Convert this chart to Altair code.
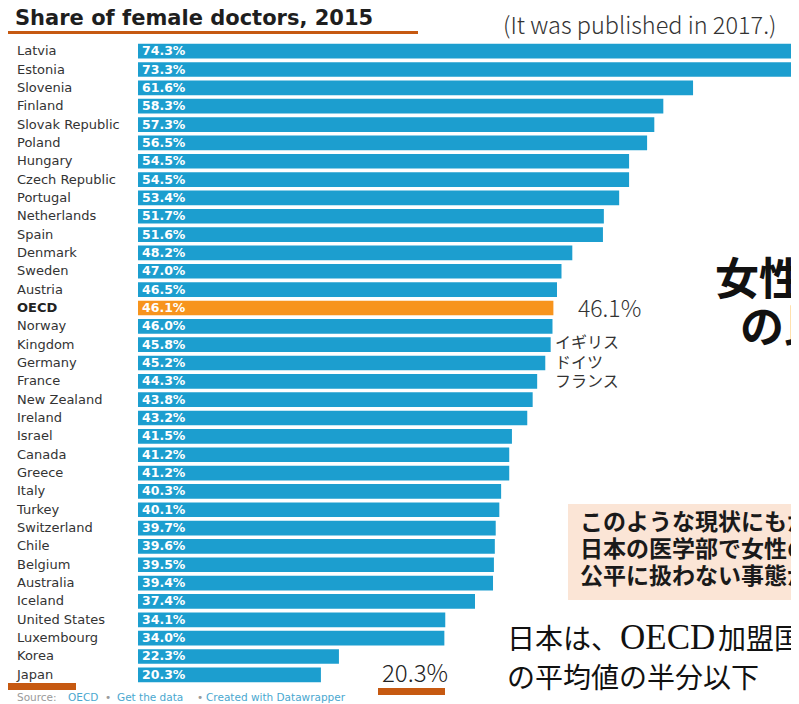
import altair as alt
import pandas as pd

countries = ["Latvia", "Estonia", "Slovenia", "Finland", "Slovak Republic", "Poland",
             "Hungary", "Czech Republic", "Portugal", "Netherlands", "Spain", "Denmark",
             "Sweden", "Austria", "OECD", "Norway", "Kingdom", "Germany", "France",
             "New Zealand", "Ireland", "Israel", "Canada", "Greece", "Italy", "Turkey",
             "Switzerland", "Chile", "Belgium", "Australia", "Iceland", "United States",
             "Luxembourg", "Korea", "Japan"]
shares = [74.3, 73.3, 61.6, 58.3, 57.3, 56.5, 54.5, 54.5, 53.4, 51.7, 51.6, 48.2,
          47.0, 46.5, 46.1, 46.0, 45.8, 45.2, 44.3, 43.8, 43.2, 41.5, 41.2, 41.2,
          40.3, 40.1, 39.7, 39.6, 39.5, 39.4, 37.4, 34.1, 34.0, 22.3, 20.3]

df = pd.DataFrame({"country": countries, "share": shares})
df["label"] = [f"{v:.1f}%" for v in shares]

BLUE = "#1c9ecf"
ORANGE = "#f7941d"
DARK_ORANGE = "#c65911"
PINK = "#fbe5d6"
SANS = "DejaVu Sans"
JP = "Noto Sans CJK JP"
SERIF = "Liberation Serif"

W, H = 653, 642

yenc = alt.Y("country:N", sort=countries, axis=None,
             scale=alt.Scale(paddingInner=0.2, paddingOuter=0.1))
xscale = alt.Scale(domain=[0, 72.47], nice=False, zero=True)

base = alt.Chart(df)

bars = base.mark_bar(clip=True).encode(
    x=alt.X("share:Q", scale=xscale, axis=None),
    y=yenc,
    color=alt.condition(alt.datum.country == "OECD", alt.value(ORANGE), alt.value(BLUE)),
)

vals = base.mark_text(align="left", baseline="middle", color="white",
                      font=SANS, fontWeight="bold", fontSize=12.5).encode(
    x=alt.value(4), y=yenc, text="label:N")

names = base.transform_filter(alt.datum.country != "OECD").mark_text(
    align="left", baseline="middle", color="#333333", font=SANS, fontSize=13).encode(
    x=alt.value(-121), y=yenc, text="country:N")

oecd_name = base.transform_filter(alt.datum.country == "OECD").mark_text(
    align="left", baseline="middle", color="#222222", font=SANS, fontSize=13,
    fontWeight="bold").encode(x=alt.value(-121), y=yenc, text="country:N")

one = alt.Data(values=[{}])


def txt(t, x, y, **kw):
    style = dict(align="left", baseline="middle")
    style.update(kw)
    return alt.Chart(one).mark_text(text=t, **style).encode(x=alt.value(x), y=alt.value(y))


def box(x1, x2, y1, y2, color):
    return alt.Chart(one).mark_rect(color=color).encode(
        x=alt.value(x1), x2=alt.value(x2), y=alt.value(y1), y2=alt.value(y2))


layers = [
    box(430, 700, 462, 558, PINK),
    bars, vals, names, oecd_name,
    txt("Share of female doctors, 2015", -123, -17, baseline="alphabetic", font=SANS,
        fontWeight="bold", fontSize=21, color="#1e1e1e"),
    box(-130, 280, -11, -8, DARK_ORANGE),
    txt("(It was published in 2017.)", 365, -15, font=JP, fontSize=23.5, fontWeight=300,
        color="#333333"),
    txt("46.1%", 440, 268, font=JP, fontSize=23, fontWeight=300, color="#333333"),
    txt("イギリス", 417, 301, font=JP, fontSize=16, color="#333333"),
    txt("ドイツ", 417, 321, font=JP, fontSize=16, color="#333333"),
    txt("フランス", 417, 340, font=JP, fontSize=16, color="#333333"),
    txt("女性医師", 577, 240, font=JP, fontSize=44, fontWeight="bold", color="#111111"),
    txt("の比率", 602, 288, font=JP, fontSize=44, fontWeight="bold", color="#111111"),
    txt("このような現状にもかかわらず", 442, 481, font=JP, fontSize=23, fontWeight="bold", color="#1a1a1a"),
    txt("日本の医学部で女性の受験生を", 442, 508, font=JP, fontSize=23, fontWeight="bold", color="#1a1a1a"),
    txt("公平に扱わない事態が発生", 442, 535, font=JP, fontSize=23, fontWeight="bold", color="#1a1a1a"),
    txt("日本は、", 369, 607, baseline="alphabetic", font=JP, fontSize=28, color="#111111"),
    txt("OECD", 482, 607, baseline="alphabetic", font=SERIF, fontSize=35, color="#111111"),
    txt("加盟国", 580, 607, baseline="alphabetic", font=JP, fontSize=28, color="#111111"),
    txt("の平均値の半分以下", 369, 646, baseline="alphabetic", font=JP, fontSize=28, color="#111111"),
    txt("20.3%", 244, 633, font=JP, fontSize=24, fontWeight=300, color="#222222"),
    box(240, 307, 646, 653, DARK_ORANGE),
    box(-130, -62, 641, 648, DARK_ORANGE),
    txt("Source:", -121, 656, font=SANS, fontSize=10.5, color="#9a9a9a"),
    txt("OECD", -70, 656, font=SANS, fontSize=10.5, color="#4aa8cf"),
    txt("•", -33, 656, font=SANS, fontSize=10.5, color="#9a9a9a"),
    txt("Get the data", -21, 656, font=SANS, fontSize=10.5, color="#4aa8cf"),
    txt("•", 59, 656, font=SANS, fontSize=10.5, color="#9a9a9a"),
    txt("Created with Datawrapper", 68, 656, font=SANS, fontSize=10.5, color="#4aa8cf"),
]

chart = alt.layer(*layers).properties(
    width=W, height=H,
    autosize=alt.AutoSizeParams(type="none"),
    padding={"left": 130, "top": 34, "right": 0, "bottom": 20},
    background="white",
).configure_view(stroke=None)

chart.save("out.html", embed_options={"renderer": "svg", "actions": False})
